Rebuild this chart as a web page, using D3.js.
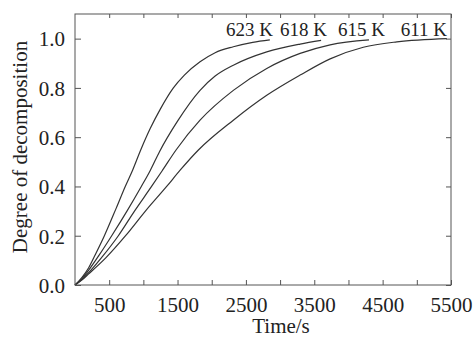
<!DOCTYPE html>
<html>
<head>
<meta charset="utf-8">
<script src="https://cdn.jsdelivr.net/npm/d3@7"></script>
<style>
  body { margin: 0; background: #fff; }
  svg text { font-family: "Liberation Serif", "Times New Roman", serif; fill: #222; }
</style>
</head>
<body>
<div id="chart"></div>
<script>
// curves: time (s) and degree of decomposition
const t623 = [0, 100, 200, 300, 430, 600, 735, 844, 961, 1100, 1250, 1439, 1600, 1829, 2050, 2316, 2600, 2850];
const v623 = [0, 0.03, 0.07, 0.125, 0.2, 0.31, 0.4, 0.467, 0.548, 0.635, 0.715, 0.8, 0.852, 0.906, 0.943, 0.967, 0.985, 0.995];

const t618 = [0, 100, 200, 350, 537, 760, 970, 1101, 1234, 1500, 1829, 2050, 2316, 2805, 3293, 3600];
const v618 = [0, 0.025, 0.06, 0.12, 0.2, 0.3, 0.4, 0.465, 0.54, 0.665, 0.79, 0.848, 0.892, 0.946, 0.978, 0.993];

const t615 = [0, 100, 200, 400, 634, 870, 1120, 1283, 1478, 1829, 2316, 2805, 3293, 3732, 4300];
const v615 = [0, 0.022, 0.05, 0.115, 0.2, 0.3, 0.4, 0.467, 0.548, 0.669, 0.79, 0.879, 0.94, 0.975, 0.995];

const t611 = [0, 100, 200, 450, 740, 1030, 1341, 1541, 1805, 2316, 2805, 3293, 3732, 4217, 4709, 5440];
const v611 = [0, 0.02, 0.045, 0.11, 0.2, 0.3, 0.4, 0.467, 0.548, 0.669, 0.77, 0.852, 0.918, 0.965, 0.987, 1.0];

const seriesNames = ["623 K", "618 K", "615 K", "611 K"];
const labelTimes = [2896, 3686, 4535, 5442];
const labelValues = [1.009, 1.009, 1.009, 1.009];

const xTicks = d3.range(500, 5501, 500);
const xTickLabels = [500, 1500, 2500, 3500, 4500, 5500];
const yTicks = [0, 0.2, 0.4, 0.6, 0.8, 1.0];

const width = 475, height = 337;
const margin = { left: 75, right: 451, top: 14, bottom: 285 };
const serif = "Liberation Serif";

const svg = d3.select("#chart").append("svg")
  .attr("width", width)
  .attr("height", height);

const x = d3.scaleLinear().domain([0, 5500]).range([margin.left, margin.right]);
const y = d3.scaleLinear().domain([0, 1.1]).range([margin.bottom, margin.top]);

const series = [
  d3.zip(t623, v623),
  d3.zip(t618, v618),
  d3.zip(t615, v615),
  d3.zip(t611, v611)
];

const line = d3.line()
  .x(d => x(d[0]))
  .y(d => y(d[1]))
  .curve(d3.curveMonotoneX);

svg.append("g")
  .selectAll("path")
  .data(series)
  .join("path")
  .attr("d", line)
  .attr("fill", "none")
  .attr("stroke", "#333")
  .attr("stroke-width", 1.2);

// axes, ticks pointing inward
const axisColor = "#555";

const bottomAxis = svg.append("g")
  .attr("transform", `translate(0,${margin.bottom})`)
  .call(d3.axisBottom(x).tickValues(xTicks).tickSizeInner(-5).tickSizeOuter(0)
    .tickFormat(d => xTickLabels.includes(d) ? d : ""));
bottomAxis.selectAll("text").attr("y", 26.5).attr("dy", 0).style("font-size", "21px");

const topAxis = svg.append("g")
  .attr("transform", `translate(0,${margin.top})`)
  .call(d3.axisTop(x).tickValues(xTicks).tickSizeInner(-4).tickSizeOuter(0).tickFormat(""));

const leftAxis = svg.append("g")
  .attr("transform", `translate(${margin.left},0)`)
  .call(d3.axisLeft(y).tickValues(yTicks).tickSizeInner(-6).tickSizeOuter(0).tickFormat(d3.format(".1f")));
leftAxis.selectAll("text").attr("x", -10).attr("dy", "0.35em").style("font-size", "21px");

const rightAxis = svg.append("g")
  .attr("transform", `translate(${margin.right},0)`)
  .call(d3.axisRight(y).tickValues(yTicks).tickSizeInner(-5).tickSizeOuter(0).tickFormat(""));

[bottomAxis, topAxis, leftAxis, rightAxis].forEach(a => {
  a.attr("font-family", serif);
  a.select(".domain").remove();
  a.selectAll("line").attr("stroke", axisColor);
  a.selectAll("text").attr("fill", "#222").style("font-family", serif);
});

svg.append("rect")
  .attr("x", margin.left)
  .attr("y", margin.top)
  .attr("width", margin.right - margin.left)
  .attr("height", margin.bottom - margin.top)
  .attr("fill", "none")
  .attr("stroke", axisColor)
  .attr("stroke-width", 1);

// temperature labels at curve ends
svg.append("g")
  .selectAll("text")
  .data(seriesNames)
  .join("text")
  .attr("x", (d, i) => x(labelTimes[i]))
  .attr("y", (d, i) => y(labelValues[i]))
  .attr("text-anchor", "end")
  .style("font-family", serif)
  .style("font-size", "19px")
  .text(d => d);

svg.append("text")
  .attr("x", 281)
  .attr("y", 333)
  .attr("text-anchor", "middle")
  .style("font-family", serif)
  .style("font-size", "21px")
  .text("Time/s");

svg.append("text")
  .attr("transform", "translate(27,147) rotate(-90)")
  .attr("text-anchor", "middle")
  .style("font-family", serif)
  .style("font-size", "21px")
  .text("Degree of decomposition");
</script>
</body>
</html>
